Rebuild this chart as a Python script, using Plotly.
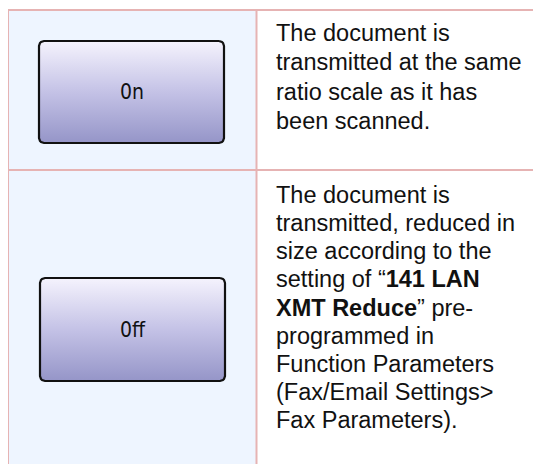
import plotly.graph_objects as go
import numpy as np

# ---- content ----
button_labels = ["0n", "0ff"]
row1_lines = [
    "The document is",
    "transmitted at the same",
    "ratio scale as it has",
    "been scanned.",
]
row2_lines = [
    "The document is",
    "transmitted, reduced in",
    "size according to the",
    "setting of “<b>141 LAN</b>",
    "<b>XMT Reduce</b>” pre-",
    "programmed in",
    "Function Parameters",
    "(Fax/Email Settings>",
    "Fax Parameters).",
]

W, H = 541, 464
OFF = 8  # page body margin
BORDER = "#E6B3B3"
LEFT_BG = "#EEF5FF"

fig = go.Figure()


def rounded_rect(x0, y0, x1, y1, r, n=6):
    xs, ys = [], []
    corners = [
        (x1 - r, y0 + r, -np.pi / 2, 0),
        (x1 - r, y1 - r, 0, np.pi / 2),
        (x0 + r, y1 - r, np.pi / 2, np.pi),
        (x0 + r, y0 + r, np.pi, 1.5 * np.pi),
    ]
    for cx, cy, a0, a1 in corners:
        for t in np.linspace(a0, a1, n):
            xs.append(cx + r * np.cos(t))
            ys.append(cy + r * np.sin(t))
    xs.append(xs[0])
    ys.append(ys[0])
    return xs, ys


buttons = [(39, 41, 224, 143), (40, 278, 225, 381)]
for (x0, y0, x1, y1), lab in zip(buttons, button_labels):
    xs, ys = rounded_rect(x0, y0, x1, y1, 5)
    fig.add_trace(go.Scatter(
        x=xs, y=ys, mode="lines", fill="toself",
        line=dict(color="#111111", width=2.2),
        fillgradient=dict(
            type="vertical",
            colorscale=[[0, "#9595C8"], [0.5, "#C4C2E6"], [1, "#F5F3FD"]],
        ),
        hoverinfo="skip", showlegend=False,
    ))
    fig.add_annotation(
        x=(x0 + x1) / 2, y=(y0 + y1) / 2, text=lab, showarrow=False,
        xanchor="center", yanchor="middle",
        font=dict(family="DejaVu Sans Condensed, DejaVu Sans Mono", size=21, color="#111111"),
    )

shapes = [
    dict(type="rect", x0=9, x1=256, y0=11, y1=H + 20, fillcolor=LEFT_BG,
         line=dict(width=0), layer="below"),
    dict(type="line", x0=7, x1=W + 20, y0=10, y1=10, line=dict(color=BORDER, width=2)),
    dict(type="line", x0=7, x1=W + 20, y0=170, y1=170, line=dict(color=BORDER, width=2)),
    dict(type="line", x0=8, x1=8, y0=9, y1=H + 20, line=dict(color=BORDER, width=2)),
    dict(type="line", x0=256.5, x1=256.5, y0=9, y1=H + 20, line=dict(color=BORDER, width=2)),
]

FS = 23.5
TX = 273.5
for lines, base0, step in [(row1_lines, 41, 29.2), (row2_lines, 202.5, 28.2)]:
    for i, t in enumerate(lines):
        fig.add_annotation(
            x=TX, y=base0 + i * step - 0.33 * FS, text=t, showarrow=False,
            xanchor="left", yanchor="middle", align="left",
            font=dict(family="Liberation Sans, Arial", size=FS, color="#111111"),
        )

fig.update_layout(
    width=W, height=H, margin=dict(l=0, r=0, t=0, b=0),
    paper_bgcolor="white", plot_bgcolor="white",
    shapes=shapes,
    xaxis=dict(range=[OFF, W + OFF], visible=False, fixedrange=True),
    yaxis=dict(range=[H + OFF, OFF], visible=False, fixedrange=True),
)
fig.write_html("out.html", config={"displayModeBar": False})
